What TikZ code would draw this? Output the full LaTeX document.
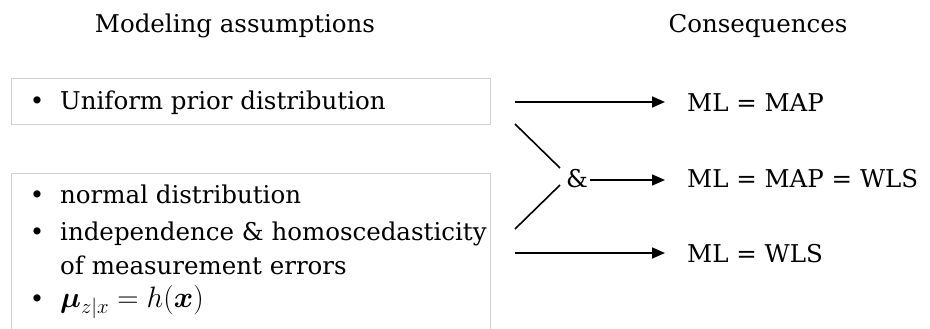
\RequirePackage{fix-cm}
\documentclass[tikz,border=0pt]{standalone}
\usepackage{amsmath,amssymb}
\usepackage{fontspec}
\setmainfont{DejaVu Serif}
\usetikzlibrary{arrows.meta}
\begin{document}
\begin{tikzpicture}[x=1pt,y=-1pt,
  every node/.style={font=\fontsize{24.5}{30}\selectfont, inner sep=0pt},
  frame/.style={draw=black!18, line width=1.3pt},
  line/.style={anchor=base west},
  bul/.style={anchor=base},
  head/.style={anchor=base},
  conn/.style={line width=1.6pt},
  arr/.style={conn, -{Triangle[length=13pt,width=11pt]}, shorten >=22pt}]
\useasboundingbox (0,0) rectangle (930,329);
\clip (0,0) rectangle (930,329);

% column headings
\node[head] (hA) at (235,33) {Modeling assumptions};
\node[head] (hC) at (758,33) {Consequences};

% assumption boxes
\node[frame, anchor=north west, minimum width=479pt, minimum height=46pt] (boxA) at (11,78) {};
\node[frame, anchor=north west, minimum width=479pt, minimum height=180pt] (boxB) at (11,173) {};

% first box: single item
\node[bul] (b1) at (37,110) {\textbullet};
\node[line] (t1) at (60,110) {Uniform prior distribution};

% second box: list of items
\node[bul] (b2) at (37,203) {\textbullet};
\node[line] (t2) at (60,203) {normal distribution};
\node[bul] (b3) at (37,240) {\textbullet};
\node[line] (t3) at (60,240) {independence \& homoscedasticity};
\node[line] (t4) at (60,274) {of measurement errors};
\node[bul] (b5) at (37,307) {\textbullet};
\node[line, font=\fontsize{29.5}{35}\selectfont] (t5) at (60,307) {$\boldsymbol{\mu}_{z|x} = h(\boldsymbol{x})$};

% consequences
\node[line] (c1) at (687,112) {ML = MAP};
\node[line] (c2) at (687,187) {ML = MAP = WLS};
\node[line] (c3) at (687,262) {ML = WLS};
\node[line] (amp) at (566,187) {\&};

% connector end points
\coordinate (s1) at (515,102);
\coordinate (s2) at (590,180);
\coordinate (s3) at (515,253);
\coordinate (u0) at (515,124);
\coordinate (u1) at (560,168);
\coordinate (l0) at (515,229);
\coordinate (l1) at (560,185);

% arrows
\draw[arr] (s1) -- (s1 -| c1.west);
\draw[arr] (s2) -- (s2 -| c2.west);
\draw[arr] (s3) -- (s3 -| c3.west);

% joining strokes into the "&"
\draw[conn] (u0) -- (u1);
\draw[conn] (l0) -- (l1);
\end{tikzpicture}
\end{document}
